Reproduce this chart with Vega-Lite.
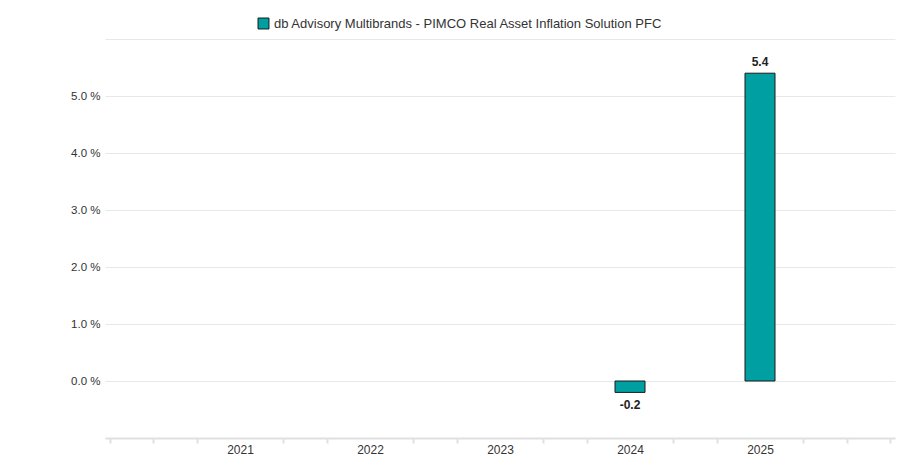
{
  "$schema": "https://vega.github.io/schema/vega-lite/v6.json",
  "width": 790,
  "height": 399,
  "autosize": "none",
  "padding": {"left": 105, "top": 39, "right": 4, "bottom": 37},
  "background": "white",
  "config": {
    "font": "Liberation Sans",
    "view": {"stroke": null}
  },
  "data": {
    "values": [
      {"year": 2024, "value": -0.2, "series": "db Advisory Multibrands - PIMCO Real Asset Inflation Solution PFC"},
      {"year": 2025, "value": 5.4, "series": "db Advisory Multibrands - PIMCO Real Asset Inflation Solution PFC"}
    ]
  },
  "encoding": {
    "x": {
      "field": "year",
      "type": "quantitative",
      "scale": {"domain": [2020, 2026], "nice": false, "zero": false},
      "axis": {
        "title": null,
        "values": [2020, 2020.3333, 2020.6667, 2021, 2021.3333, 2021.6667, 2022, 2022.3333, 2022.6667, 2023, 2023.3333, 2023.6667, 2024, 2024.3333, 2024.6667, 2025, 2025.3333, 2025.6667, 2026],
        "labelExpr": "(abs(datum.value - round(datum.value)) < 0.01 && datum.value > 2020.5 && datum.value < 2025.5) ? format(round(datum.value), 'd') : ''",
        "grid": false,
        "domainColor": "#e0e0e0",
        "domainWidth": 2,
        "tickColor": "#e0e0e0",
        "tickWidth": 2,
        "tickSize": 5,
        "tickOpacity": {"condition": {"test": "abs(datum.value - round(datum.value)) < 0.01 && datum.value > 2020.5 && datum.value < 2025.5", "value": 0}, "value": 1},
        "labelColor": "#333333",
        "labelFontSize": 12,
        "labelPadding": 1,
        "labelFlush": false
      }
    },
    "y": {
      "field": "value",
      "type": "quantitative",
      "scale": {"domain": [-1, 6], "nice": false},
      "axis": {
        "title": null,
        "values": [-1, 0, 1, 2, 3, 4, 5, 6],
        "labelExpr": "(datum.value >= 0 && datum.value <= 5) ? format(datum.value, '.1f') + ' %' : ''",
        "domain": false,
        "ticks": false,
        "gridColor": "#e8e8e8",
        "gridWidth": 1,
        "labelColor": "#333333",
        "labelFontSize": 11.5,
        "labelPadding": 5
      }
    }
  },
  "layer": [
    {
      "mark": {"type": "bar", "size": 30, "stroke": "#1a1a1a", "strokeWidth": 1},
      "encoding": {
        "color": {
          "field": "series",
          "type": "nominal",
          "scale": {"range": ["#009fa1"]},
          "legend": {
            "title": null,
            "orient": "none",
            "legendX": 152,
            "legendY": -22,
            "direction": "horizontal",
            "symbolType": "square",
            "symbolSize": 120,
            "symbolStrokeColor": "#1a1a1a",
            "symbolStrokeWidth": 1,
            "labelFontSize": 13,
            "labelColor": "#333333",
            "labelLimit": 600,
            "labelOffset": 4
          }
        }
      }
    },
    {
      "mark": {
        "type": "text",
        "fontWeight": "bold",
        "fontSize": 12,
        "color": "#222222",
        "dy": {"expr": "datum.value < 0 ? 13 : -11"},
        "text": {"expr": "replace(format(datum.value, '.1f'), '\u2212', '-')"}
      }
    }
  ]
}
